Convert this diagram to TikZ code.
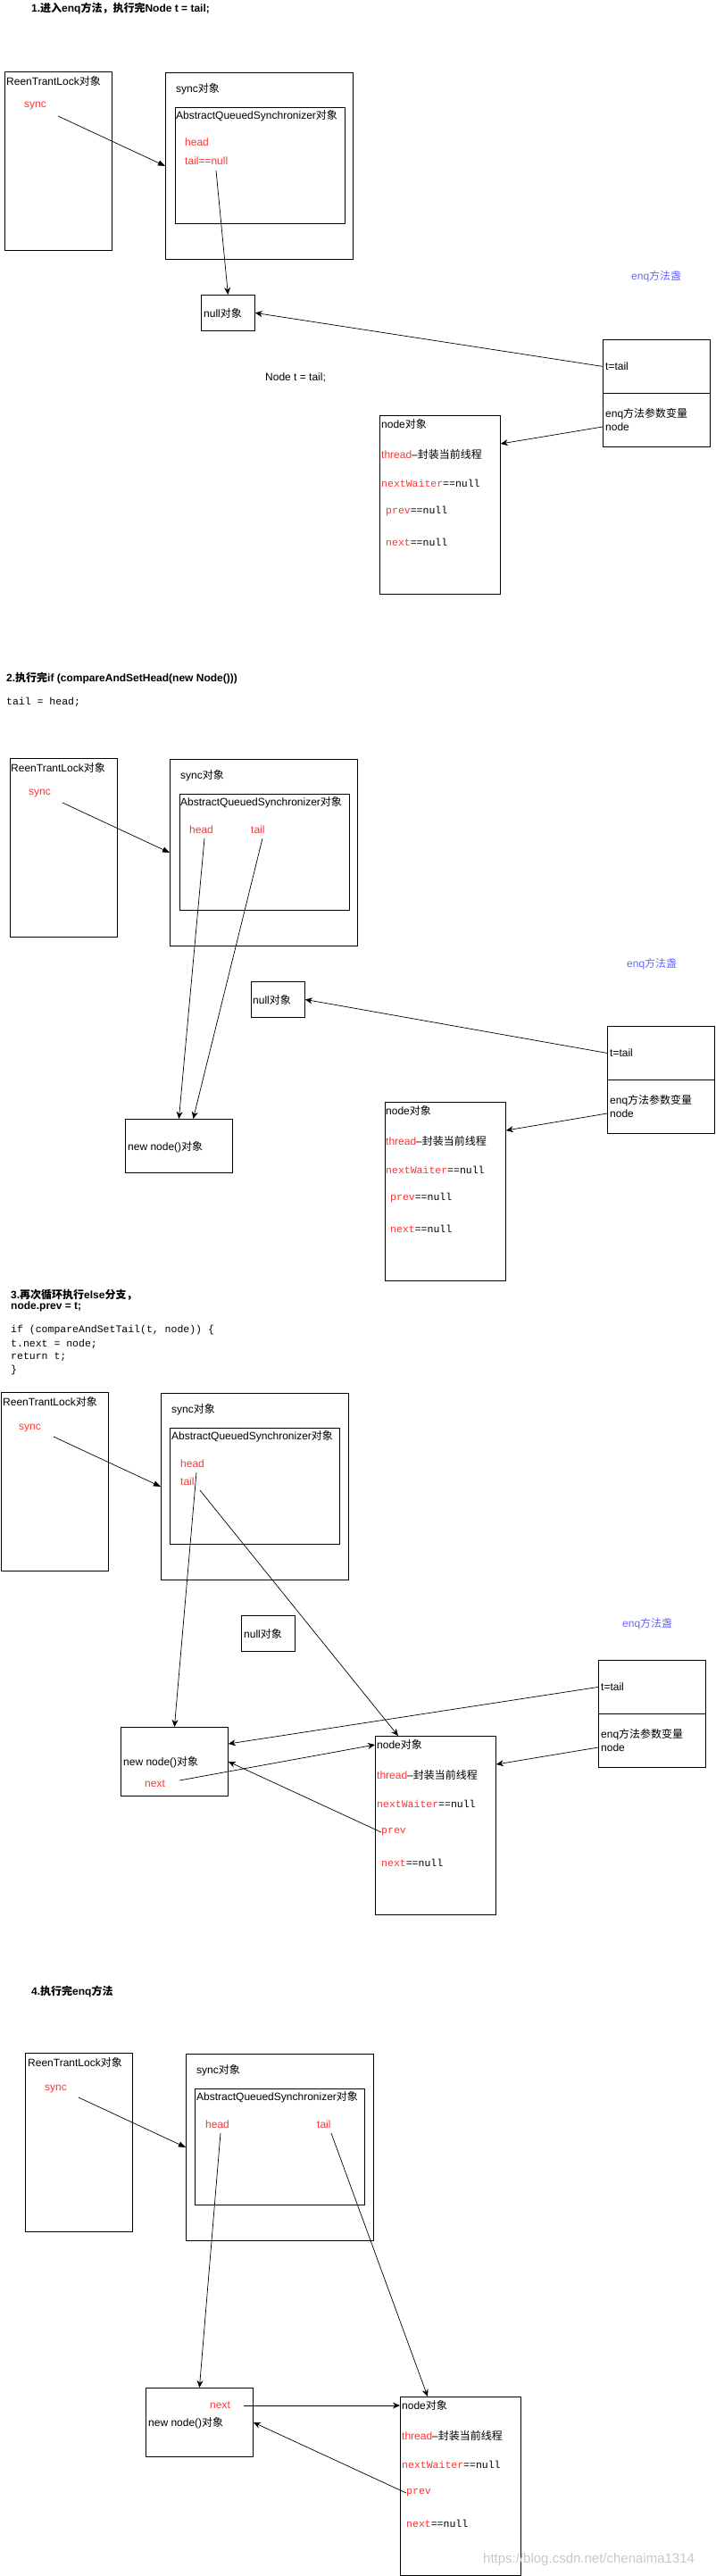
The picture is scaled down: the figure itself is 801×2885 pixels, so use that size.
\documentclass[tikz,border=0pt]{standalone}
\usepackage{fontspec}
\setmainfont{Liberation Sans}
\setmonofont{Liberation Mono}
\newfontfamily\zh{Noto Sans CJK SC}
\usetikzlibrary{arrows.meta}
\definecolor{fieldred}{HTML}{FF3333}
\definecolor{enqblue}{HTML}{6666FF}
\tikzset{
  box/.style={draw, line width=0.8pt, anchor=north west, inner sep=0pt},
  lbl/.style={anchor=west, inner sep=0pt, font=\fontsize{12}{14}\selectfont},
  fld/.style={lbl, text=fieldred},
  ttl/.style={anchor=west, inner sep=0pt, font=\fontsize{12}{14}\selectfont\bfseries},
  code/.style={anchor=west, inner sep=0pt, font=\fontsize{11.5}{13}\selectfont\ttfamily},
  ptr/.style={line width=0.7pt, -{Stealth[length=8pt,width=7pt,inset=2.5pt]}},
  blk/.style={line width=0.7pt, -{Triangle[length=8pt,width=6pt]}}
}

\begin{document}
\begin{tikzpicture}[x=1pt,y=-1pt]
\useasboundingbox (0,0) rectangle (801,2885);

% ---------- 1 ----------
\node[ttl] (t1) at (35,10) {1.{\zh 进入}enq{\zh 方法，执行完}Node t = tail;};
% ReenTrantLock / sync / AQS
\node[box, minimum width=120pt, minimum height=200pt] (lock1) at (5,80) {};
\node[lbl] (lockl1) at (7,91) {ReenTrantLock{\zh 对象}};
\node[fld] (sy1) at (27,119) {sync};
\node[box, minimum width=210pt, minimum height=209pt] (sync1) at (185,81) {};
\node[lbl] (syncl1) at (197,100) {sync{\zh 对象}};
\node[box, minimum width=190pt, minimum height=130pt] (aqs1) at (196,120) {};
\node[lbl] (aqsl1) at (197,130) {AbstractQueuedSynchronizer{\zh 对象}};
\node[fld] (hd1) at (207,159) {head};
\node[fld] (tl1) at (207,180) {tail==null};
% null
\node[box, minimum width=60pt, minimum height=40pt] (null1) at (225,330) {};
\node[lbl] (nulll1) at (228,351) {null{\zh 对象}};
\node[lbl] (nt1) at (297,423) {Node t = tail;};
% enq frame
\node[lbl, text=enqblue] (enq1) at (707,310) {enq{\zh 方法盏}};
\node[box, minimum width=120pt, minimum height=60pt] (tt1) at (675,380) {};
\node[box, minimum width=120pt, minimum height=60pt] (ep1) at (675,440) {};
\node[lbl] (ttl1) at (678,410) {t=tail};
\node[lbl] (epl1) at (678,464) {enq{\zh 方法参数变量}};
\node[lbl] (epn1) at (678,478) {node};
% node object
\node[box, minimum width=135pt, minimum height=200pt] (obj1) at (425,465) {};
\node[lbl] (objl1) at (427,475) {node{\zh 对象}};
\node[lbl] (th1) at (427,509) {\textcolor{fieldred}{thread}--{\zh 封装当前线程}};
\node[code] (nw1) at (427,541) {\textcolor{fieldred}{nextWaiter}==null};
\node[code] (pv1) at (432,573) {\textcolor{fieldred}{prev}==null};
\node[code] (nx1) at (432,607) {\textcolor{fieldred}{next}==null};
% pointers
\coordinate (s1) at (65,130);
\coordinate (tn1) at (242,191);
\draw[blk] (s1) -- (sync1.west);
\draw[ptr] (tn1) -- (null1.north);
\draw[ptr] (tt1.west) -- (null1.east);
\draw[ptr] (ep1.west |- epn1) -- ([yshift=-32pt]obj1.north east);

% ---------- 2 ----------
\node[ttl] (t2) at (7,760) {2.{\zh 执行完}if (compareAndSetHead(new Node()))};
\node[code] (c2) at (7,786) {tail = head;};
\node[box, minimum width=120pt, minimum height=200pt] (lock2) at (11,849) {};
\node[lbl] (lockl2) at (12,860) {ReenTrantLock{\zh 对象}};
\node[fld] (sy2) at (32,889) {sync};
\node[box, minimum width=210pt, minimum height=209pt] (sync2) at (190,850) {};
\node[lbl] (syncl2) at (202,869) {sync{\zh 对象}};
\node[box, minimum width=190pt, minimum height=130pt] (aqs2) at (201,889) {};
\node[lbl] (aqsl2) at (202,899) {AbstractQueuedSynchronizer{\zh 对象}};
\node[fld] (hd2) at (212,929) {head};
\node[fld] (tl2) at (281,929) {tail};
\node[box, minimum width=60pt, minimum height=40pt] (null2) at (281,1099) {};
\node[lbl] (nulll2) at (283,1120) {null{\zh 对象}};
\node[box, minimum width=120pt, minimum height=60pt] (nn2) at (140,1253) {};
\node[lbl] (nnl2) at (143,1285) {new node(){\zh 对象}};
\node[lbl, text=enqblue] (enq2) at (702,1080) {enq{\zh 方法盏}};
\node[box, minimum width=120pt, minimum height=60pt] (tt2) at (680,1149) {};
\node[box, minimum width=120pt, minimum height=60pt] (ep2) at (680,1209) {};
\node[lbl] (ttl2) at (683,1179) {t=tail};
\node[lbl] (epl2) at (683,1233) {enq{\zh 方法参数变量}};
\node[lbl] (epn2) at (683,1247) {node};
\node[box, minimum width=135pt, minimum height=200pt] (obj2) at (431,1234) {};
\node[lbl] (objl2) at (432,1244) {node{\zh 对象}};
\node[lbl] (th2) at (432,1278) {\textcolor{fieldred}{thread}--{\zh 封装当前线程}};
\node[code] (nw2) at (432,1310) {\textcolor{fieldred}{nextWaiter}==null};
\node[code] (pv2) at (437,1342) {\textcolor{fieldred}{prev}==null};
\node[code] (nx2) at (437,1376) {\textcolor{fieldred}{next}==null};
% pointers
\coordinate (s2) at (70,899);
\coordinate (h2) at (229,939);
\coordinate (tn2) at (294,939);
\draw[blk] (s2) -- (sync2.west);
\draw[ptr] (h2) -- (nn2.north);
\draw[ptr] (tn2) -- ([xshift=16pt]nn2.north);
\draw[ptr] (tt2.west) -- (null2.east);
\draw[ptr] (ep2.west |- epn2) -- ([yshift=-32pt]obj2.north east);

% ---------- 3 ----------
\node[ttl] (t3) at (12,1450) {3.{\zh 再次循环执行}else{\zh 分支，}};
\node[ttl] (t3b) at (12,1463) {node.prev = t;};
\node[code] (c3a) at (12,1490) {if (compareAndSetTail(t, node)) \{};
\node[code] (c3b) at (12,1505) {t.next = node;};
\node[code] (c3c) at (12,1520) {return t;};
\node[code] (c3d) at (12,1535) {\}};
\node[box, minimum width=120pt, minimum height=200pt] (lock3) at (0.5,1559) {};
\node[lbl] (lockl3) at (3,1570) {ReenTrantLock{\zh 对象}};
\node[fld] (sy3) at (21,1599) {sync};
\node[box, minimum width=210pt, minimum height=209pt] (sync3) at (180,1560) {};
\node[lbl] (syncl3) at (192,1579) {sync{\zh 对象}};
\node[box, minimum width=190pt, minimum height=130pt] (aqs3) at (190,1599) {};
\node[lbl] (aqsl3) at (192,1609) {AbstractQueuedSynchronizer{\zh 对象}};
\node[fld] (hd3) at (202,1639) {head};
\node[fld] (tl3) at (202,1659) {tail};
\node[box, minimum width=60pt, minimum height=40pt] (null3) at (270,1809) {};
\node[lbl] (nulll3) at (273,1830) {null{\zh 对象}};
\node[box, minimum width=120pt, minimum height=77pt] (nn3) at (135,1934) {};
\node[lbl] (nnl3) at (138,1974) {new node(){\zh 对象}};
\node[fld] (nxt3) at (162,1998) {next};
\node[lbl, text=enqblue] (enq3) at (697,1819) {enq{\zh 方法盏}};
\node[box, minimum width=120pt, minimum height=60pt] (tt3) at (670,1859) {};
\node[box, minimum width=120pt, minimum height=60pt] (ep3) at (670,1919) {};
\node[lbl] (ttl3) at (673,1889) {t=tail};
\node[lbl] (epl3) at (673,1943) {enq{\zh 方法参数变量}};
\node[lbl] (epn3) at (673,1957) {node};
\node[box, minimum width=135pt, minimum height=200pt] (obj3) at (420,1944) {};
\node[lbl] (objl3) at (422,1954) {node{\zh 对象}};
\node[lbl] (th3) at (422,1988) {\textcolor{fieldred}{thread}--{\zh 封装当前线程}};
\node[code] (nw3) at (422,2020) {\textcolor{fieldred}{nextWaiter}==null};
\node[code] (pv3) at (427,2052) {\textcolor{fieldred}{prev}};
\node[code] (nx3) at (427,2086) {\textcolor{fieldred}{next}==null};
% pointers
\coordinate (s3) at (60,1609);
\coordinate (h3) at (220,1649);
\coordinate (tn3) at (224,1669);
\coordinate (n3) at (201,1994);
\draw[blk] (s3) -- (sync3.west);
\draw[ptr] (h3) -- (nn3.north);
\draw[ptr] (tn3) -- ([xshift=26pt]obj3.north west);
\draw[ptr] (tt3.west) -- ([yshift=-19pt]nn3.north east);
\draw[ptr] (n3) -- (obj3.west |- objl3);
\draw[ptr] (pv3.west) -- (nn3.east);
\draw[ptr] (ep3.west |- epn3) -- ([yshift=-32pt]obj3.north east);

% ---------- 4 ----------
\node[ttl] (t4) at (35,2230) {4.{\zh 执行完}enq{\zh 方法}};
\node[box, minimum width=120pt, minimum height=200pt] (lock4) at (28,2299) {};
\node[lbl] (lockl4) at (31,2310) {ReenTrantLock{\zh 对象}};
\node[fld] (sy4) at (50,2339) {sync};
\node[box, minimum width=210pt, minimum height=209pt] (sync4) at (208,2300) {};
\node[lbl] (syncl4) at (220,2319) {sync{\zh 对象}};
\node[box, minimum width=190pt, minimum height=130pt] (aqs4) at (218,2339) {};
\node[lbl] (aqsl4) at (220,2349) {AbstractQueuedSynchronizer{\zh 对象}};
\node[fld] (hd4) at (230,2379) {head};
\node[fld] (tl4) at (355,2379) {tail};
\node[box, minimum width=120pt, minimum height=77pt] (nn4) at (163,2674) {};
\node[fld] (nxt4) at (235,2694) {next};
\node[lbl] (nnl4) at (166,2714) {new node(){\zh 对象}};
\node[box, minimum width=135pt, minimum height=200pt] (obj4) at (448,2684) {};
\node[lbl] (objl4) at (450,2694) {node{\zh 对象}};
\node[lbl] (th4) at (450,2728) {\textcolor{fieldred}{thread}--{\zh 封装当前线程}};
\node[code] (nw4) at (450,2760) {\textcolor{fieldred}{nextWaiter}==null};
\node[code] (pv4) at (455,2792) {\textcolor{fieldred}{prev}};
\node[code] (nx4) at (455,2826) {\textcolor{fieldred}{next}==null};
% pointers
\coordinate (s4) at (88,2349);
\coordinate (h4) at (247,2389);
\coordinate (tn4) at (371,2389);
\coordinate (n4) at (273,2694);
\draw[blk] (s4) -- (sync4.west);
\draw[ptr] (h4) -- (nn4.north);
\draw[ptr] (tn4) -- ([xshift=31pt]obj4.north west);
\draw[ptr] (n4) -- (obj4.west |- objl4);
\draw[ptr] (pv4.west) -- (nn4.east);

% watermark
\node[anchor=west, inner sep=0pt, font=\fontsize{15}{18}\selectfont, text=black!22] (wm) at (541,2867) {https://blog.csdn.net/chenaima1314};
\end{tikzpicture}
\end{document}
